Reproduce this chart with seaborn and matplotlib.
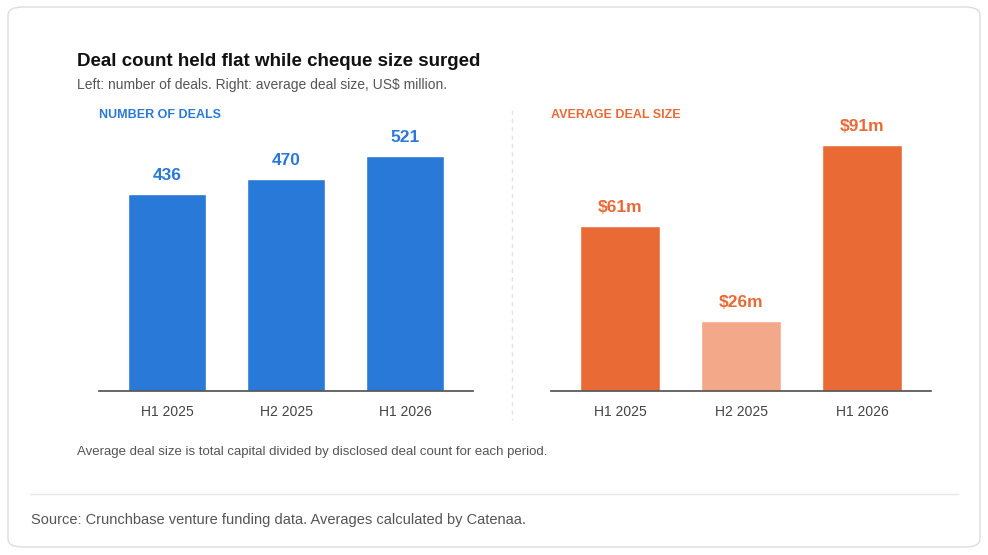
import matplotlib
matplotlib.use("Agg")
import matplotlib.pyplot as plt
import seaborn as sns
import pandas as pd
from matplotlib.patches import FancyBboxPatch
from matplotlib.lines import Line2D

periods = ["H1 2025", "H2 2025", "H1 2026"]
deal_counts = [436, 470, 521]
avg_sizes = [61, 26, 91]
size_labels = ["$61m", "$26m", "$91m"]

sns.set_theme(style="white")
plt.rcParams['font.family'] = ['Liberation Sans', 'DejaVu Sans']

W, H = 988, 555
fig = plt.figure(figsize=(W/100, H/100), dpi=100)
fig.patch.set_facecolor("white")

card = FancyBboxPatch((8/W, 8/H), (972/W), (540/H), boxstyle="round,pad=0,rounding_size=0.015",
                      transform=fig.transFigure, facecolor="white", edgecolor="#dddddd", lw=1, zorder=-10)
fig.patches.append(card)

def ax_at(x0, x1, y0, y1):
    a = fig.add_axes([x0/W, 1-y1/H, (x1-x0)/W, (y1-y0)/H])
    a.set_facecolor("none")
    a.set_zorder(5)
    return a

blue = "#2979d8"; orange = "#e96a35"; light = "#f4a88a"

axL = ax_at(99, 473, 130, 391)
axR = ax_at(551, 931, 130, 391)

dfL = pd.DataFrame({"p": periods, "v": deal_counts})
dfR = pd.DataFrame({"p": periods, "v": avg_sizes})
sns.barplot(data=dfL, x="p", y="v", ax=axL, color=blue, width=0.66, saturation=1)
sns.barplot(data=dfR, x="p", y="v", ax=axR, hue="p", palette=[orange, light, orange],
            width=0.66, saturation=1, legend=False)

for ax, vals, labs, ymax in [(axL, deal_counts, [str(v) for v in deal_counts], 579),
                             (axR, avg_sizes, size_labels, 96.6)]:
    col = blue if ax is axL else orange
    ax.set_ylim(0, ymax)
    ax.set_xlim(-0.57, 2.57)
    ax.set_xlabel(""); ax.set_ylabel("")
    ax.set_yticks([])
    for s in ["top", "right", "left"]:
        ax.spines[s].set_visible(False)
    ax.spines["bottom"].set_color("#555555")
    ax.tick_params(axis="x", length=0, labelsize=10, colors="#444444", pad=10)
    for i, (v, l) in enumerate(zip(vals, labs)):
        ax.annotate(l, (i, v), xytext=(0, 8), textcoords="offset points", ha="center",
                    va="bottom", fontsize=12.5, fontweight="bold", color=col)

fig.add_artist(Line2D([512/W, 512/W], [1-110/H, 1-420/H], color="#e3e3e3", lw=1, ls=(0, (3, 3))))

fig.text(77/W, 1-61/H, "Deal count held flat while cheque size surged", fontsize=13.5,
         fontweight="bold", color="#111111", va="center")
fig.text(77/W, 1-85/H, "Left: number of deals. Right: average deal size, US$ million.", fontsize=10,
         color="#555555", va="center")
fig.text(99/W, 1-115/H, "NUMBER OF DEALS", fontsize=9, fontweight="bold", color=blue, va="center")
fig.text(551/W, 1-115/H, "AVERAGE DEAL SIZE", fontsize=9, fontweight="bold", color=orange, va="center")
fig.text(77/W, 1-452/H, "Average deal size is total capital divided by disclosed deal count for each period.",
         fontsize=9.5, color="#555555", va="center")
fig.add_artist(Line2D([30/W, 958/W], [1-494/H, 1-494/H], color="#e6e6e6", lw=1))
fig.text(31/W, 1-520/H, "Source: Crunchbase venture funding data. Averages calculated by Catenaa.",
         fontsize=10.5, color="#555555", va="center")

fig.savefig("out.png", dpi=100)
